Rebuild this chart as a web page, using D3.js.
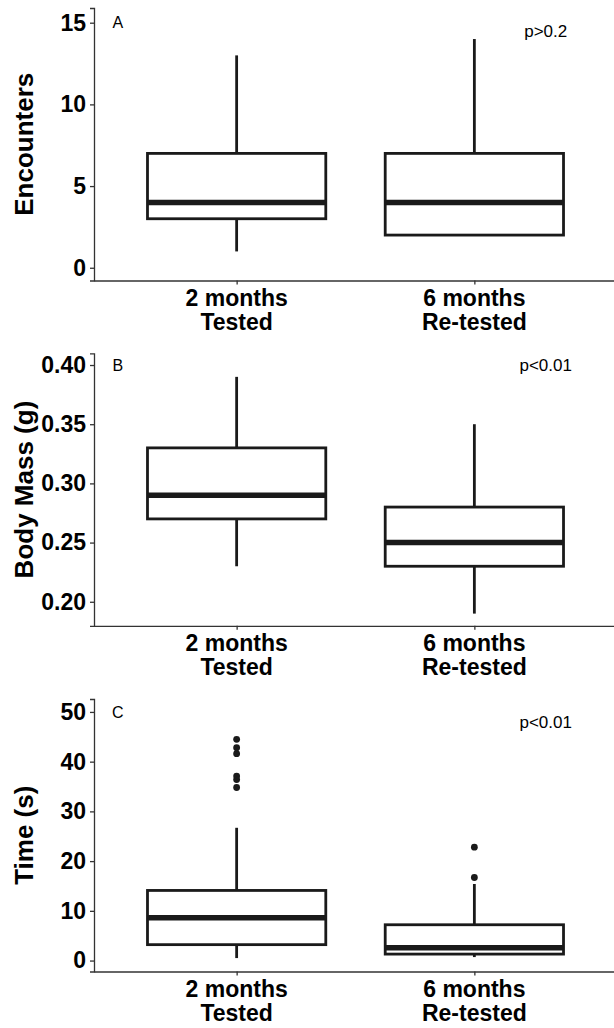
<!DOCTYPE html>
<html>
<head>
<meta charset="utf-8">
<script src="https://cdn.jsdelivr.net/npm/d3@7"></script>
<style>
  body { margin:0; background:#fff; }
  svg text { font-family: "Liberation Sans", Arial, sans-serif; }
</style>
</head>
<body>
<svg id="chart" width="614" height="1028"></svg>
<script>
// categories (two lines each)
const groupLine1 = ["2 months", "6 months"];
const groupLine2 = ["Tested", "Re-tested"];

// box stats per group: [lower whisker, Q1, median, Q3, upper whisker]
const encounterStats = [[1, 3, 4, 7, 13], [2, 2, 4, 7, 14]];
const massStats = [[0.23, 0.27, 0.29, 0.33, 0.39], [0.19, 0.23, 0.25, 0.28, 0.35]];
const timeStats = [[0.5, 3.2, 8.6, 14.1, 26.7], [0.7, 1.3, 2.6, 7.2, 15.4]];

// outliers per group
const encounterOutliers = [[], []];
const massOutliers = [[], []];
const timeOutliers = [[34.8, 36.4, 37.1, 41.6, 42.8, 44.5], [16.7, 22.8]];

// y-axis ticks and titles
const encounterTicks = [0, 5, 10, 15];
const massTicks = [0.20, 0.25, 0.30, 0.35, 0.40];
const timeTicks = [0, 10, 20, 30, 40, 50];
const yTitles = ["Encounters", "Body Mass (g)", "Time (s)"];
const panelLetters = ["A", "B", "C"];
const pLabels = ["p>0.2", "p<0.01", "p<0.01"];

const panels = [
  {stats: encounterStats, out: encounterOutliers, ticks: encounterTicks, fmt: d3.format("d"),
   domain: [-0.78, 15.9], top: 8, letterY: 15, pY: 14.5},
  {stats: massStats, out: massOutliers, ticks: massTicks, fmt: d3.format(".2f"),
   domain: [0.1797, 0.4099], top: 353.3, letterY: 0.40, pY: 0.40},
  {stats: timeStats, out: timeOutliers, ticks: timeTicks, fmt: d3.format("d"),
   domain: [-2.2, 52.6], top: 699, letterY: 50, pY: 48}
];

const svg = d3.select("#chart");
const left = 94, right = 617, ph = 272.5;
const ink = "#1a1a1a";

// discrete x positions 1,2 with ggplot-style 0.6 expansion
const x = d3.scaleLinear().domain([0.4, 2.6]).range([left, right]);
const boxW = x(1.75) - x(1);

panels.forEach((p, pi) => {
  const y = d3.scaleLinear().domain(p.domain).range([p.top + ph, p.top]);
  const g = svg.append("g");

  // y axis
  const yAx = g.append("g").attr("transform", `translate(${left},0)`)
    .call(d3.axisLeft(y).tickValues(p.ticks).tickFormat(p.fmt).tickSize(4).tickPadding(4));
  yAx.select(".domain").attr("stroke", "#333").attr("stroke-width", 1.3);
  yAx.selectAll(".tick line").attr("stroke", "#333").attr("stroke-width", 1.3);
  yAx.selectAll(".tick text").attr("fill", "#000").style("font-size", "23px")
    .style("font-weight", "bold").attr("font-family", null);

  // x axis
  const xAx = g.append("g").attr("transform", `translate(0,${p.top + ph})`)
    .call(d3.axisBottom(x).tickValues([1, 2]).tickFormat("").tickSize(4).tickSizeOuter(0));
  xAx.select(".domain").attr("stroke", "#333").attr("stroke-width", 1.3);
  xAx.selectAll(".tick line").attr("stroke", "#333").attr("stroke-width", 1.3);

  [1, 2].forEach((v, i) => {
    const t = g.append("text").attr("text-anchor", "middle")
      .style("font-size", "23px").style("font-weight", "bold").attr("fill", "#000");
    t.append("tspan").attr("x", x(v)).attr("y", p.top + ph + 25).text(groupLine1[i]);
    t.append("tspan").attr("x", x(v)).attr("y", p.top + ph + 49.5).text(groupLine2[i]);
  });

  // y title
  g.append("text")
    .attr("transform", `translate(32.5,${p.top + ph / 2}) rotate(-90)`)
    .attr("text-anchor", "middle")
    .style("font-size", "26px").style("font-weight", "bold").attr("fill", "#000")
    .text(yTitles[pi]);

  // boxes
  p.stats.forEach((s, i) => {
    const cx = x(i + 1);
    const [lo, q1, med, q3, hi] = s;
    if (hi > q3) g.append("line").attr("x1", cx).attr("x2", cx).attr("y1", y(q3)).attr("y2", y(hi))
      .attr("stroke", ink).attr("stroke-width", 2.8);
    if (lo < q1) g.append("line").attr("x1", cx).attr("x2", cx).attr("y1", y(q1)).attr("y2", y(lo))
      .attr("stroke", ink).attr("stroke-width", 2.8);
    g.append("rect").attr("x", cx - boxW / 2).attr("width", boxW)
      .attr("y", y(q3)).attr("height", y(q1) - y(q3))
      .attr("fill", "#fff").attr("stroke", ink).attr("stroke-width", 2.8);
    g.append("line").attr("x1", cx - boxW / 2).attr("x2", cx + boxW / 2)
      .attr("y1", y(med)).attr("y2", y(med))
      .attr("stroke", ink).attr("stroke-width", 5.5);
    g.selectAll(null).data(p.out[i]).enter().append("circle")
      .attr("cx", cx).attr("cy", d => y(d)).attr("r", 3.4).attr("fill", ink);
  });

  // annotations
  g.append("text").attr("x", x(0.5)).attr("y", y(p.letterY)).attr("dy", "0.35em")
    .attr("text-anchor", "middle").style("font-size", "16px").attr("fill", "#000")
    .text(panelLetters[pi]);
  g.append("text").attr("x", x(2.3)).attr("y", y(p.pY)).attr("dy", "0.35em")
    .attr("text-anchor", "middle").style("font-size", "17px").attr("fill", "#000")
    .text(pLabels[pi]);
});
</script>
</body>
</html>
